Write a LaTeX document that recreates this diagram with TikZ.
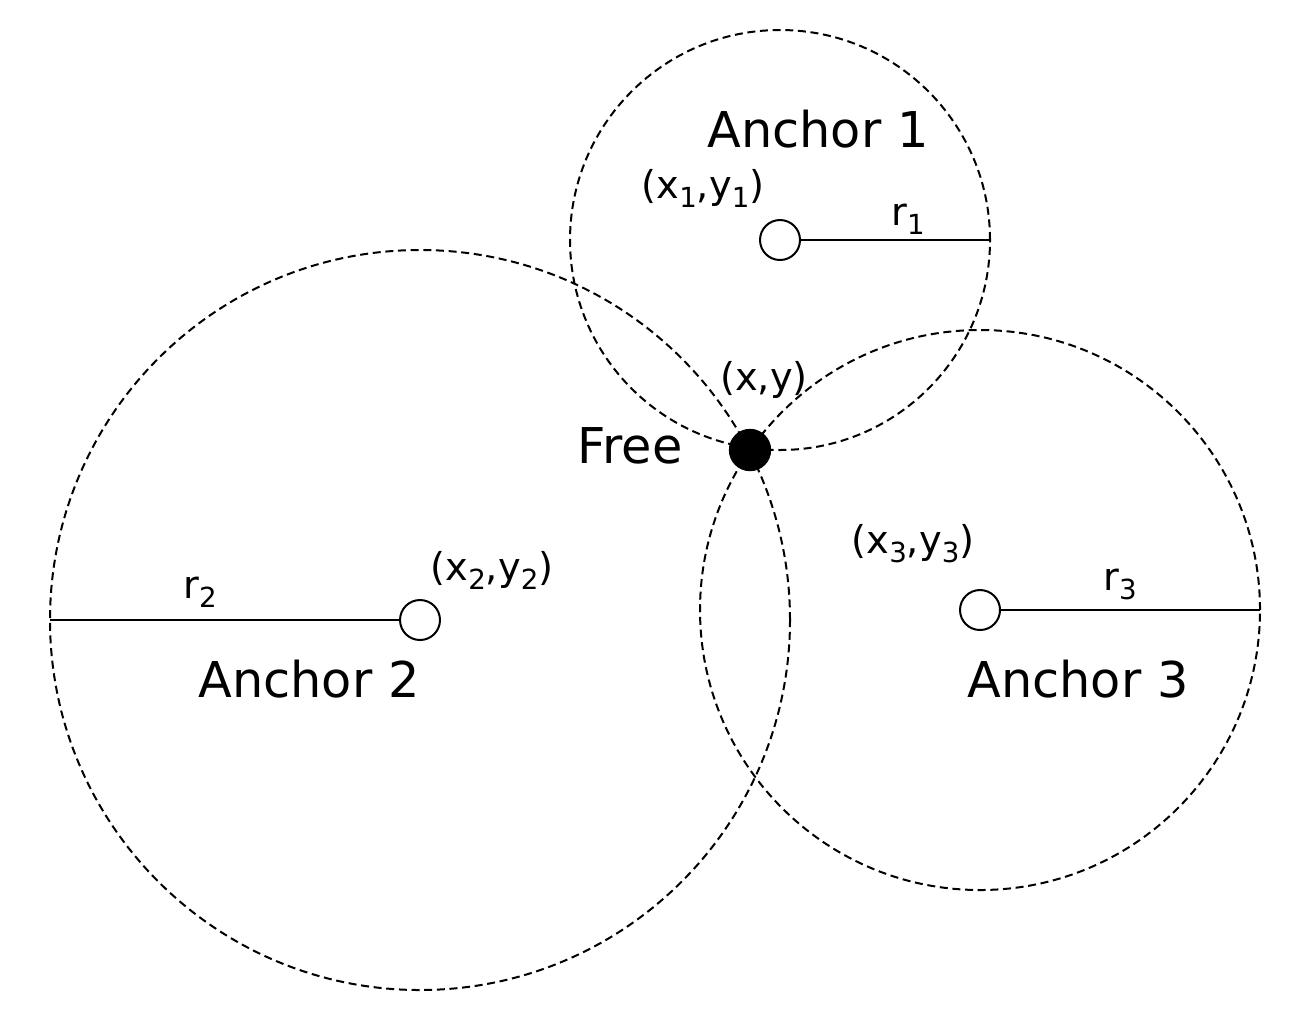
\documentclass[tikz,border=0pt]{standalone}
\usepackage{fontspec}
\setmainfont{DejaVu Sans}
\usepackage{tikz}
\usetikzlibrary{shapes.geometric}
\newcommand{\idx}[1]{\raisebox{-0.24em}{\fontsize{8.3}{10}\selectfont #1}}
\tikzstyle{anchordot} = [circle, draw=black, fill=white, minimum size=12pt, inner sep=0pt, line width=0.6pt]
\tikzstyle{freedot} = [circle, fill=black, draw=black, minimum size=12.3pt, inner sep=0pt]
\tikzstyle{rangecircle} = [line width=0.6pt, dash pattern=on 2.4pt off 1.4pt]
\tikzstyle{radiusline} = [line width=0.6pt]
\tikzstyle{nametext} = [font=\fontsize{14.8}{17}\selectfont, anchor=base, inner sep=0pt]
\tikzstyle{coordtext} = [font=\fontsize{11.5}{14}\selectfont, anchor=base, inner sep=0pt]

\begin{document}
\begin{tikzpicture}[x=0.3pt, y=-0.3pt]
  \useasboundingbox (0,0) rectangle (1311,1022);
  % range circles
  \draw[rangecircle] (780,240) circle (63pt);
  \draw[rangecircle] (420,620) circle (111pt);
  \draw[rangecircle] (980,610) circle (84pt);
  % anchors
  \node (anchor1) [anchordot] at (780,240) {};
  \node (anchor2) [anchordot] at (420,620) {};
  \node (anchor3) [anchordot] at (980,610) {};
  \node (free) [freedot] at (750,450) {};
  \coordinate (r1end) at (990,240);
  \coordinate (r2end) at (50,620);
  \coordinate (r3end) at (1260,610);
  \draw[radiusline] (anchor1) -- (r1end);
  \draw[radiusline] (anchor2) -- (r2end);
  \draw[radiusline] (anchor3) -- (r3end);
  % labels
  \node (name1) [nametext] at (818,147) {Anchor 1};
  \node (name2) [nametext] at (309,697) {Anchor 2};
  \node (name3) [nametext] at (1078,697) {Anchor 3};
  \node (namefree) [nametext] at (630,463) {Free};
  \node (pos1) [coordtext] at (703,198) {(x\idx{1},y\idx{1})};
  \node (pos2) [coordtext] at (492,580) {(x\idx{2},y\idx{2})};
  \node (pos3) [coordtext] at (913,553) {(x\idx{3},y\idx{3})};
  \node (posfree) [coordtext] at (764,390) {(x,y)};
  \node (len1) [coordtext] at (908,225) {r\idx{1}};
  \node (len2) [coordtext] at (200,598) {r\idx{2}};
  \node (len3) [coordtext] at (1120,590) {r\idx{3}};
\end{tikzpicture}
\end{document}
